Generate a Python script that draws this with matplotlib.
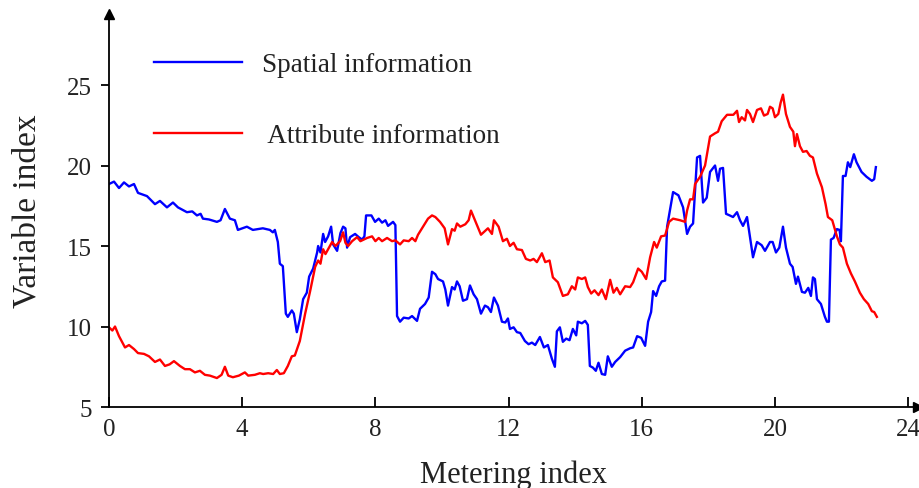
import matplotlib
matplotlib.use("Agg")
import matplotlib.pyplot as plt

plt.rcParams['font.family'] = ['Liberation Serif', 'DejaVu Serif']

# ---- data ----
spatial_x = [0.00,0.15,0.3,0.45,0.6,0.75,0.87,1.14,1.38,1.53,1.74,1.92,2.07,2.34,2.5,2.64,2.75,2.82,3.0,3.24,
             3.35,3.48,3.63,3.78,3.87,4.14,4.32,4.62,4.83,4.92,4.98,5.07,5.13,5.22,5.31,5.37,5.49,5.55,5.64,5.73,
             5.83,5.94,6.01,6.13,6.25,6.28,6.35,6.43,6.49,6.58,6.67,6.73,6.85,6.95,7.03,7.1,7.15,7.24,7.39,7.5,
             7.6,7.67,7.72,7.88,7.99,8.1,8.2,8.3,8.38,8.53,8.6,8.65,8.74,8.85,9.0,9.1,9.25,9.34,9.49,9.6,
             9.7,9.8,9.88,10.03,10.1,10.18,10.3,10.38,10.45,10.53,10.63,10.75,10.84,10.95,11.05,11.17,11.29,11.38,11.47,11.56,
             11.68,11.8,11.9,11.98,12.04,12.15,12.25,12.35,12.49,12.6,12.7,12.8,12.94,13.06,13.18,13.3,13.39,13.45,13.54,13.63,
             13.73,13.83,13.93,14.03,14.08,14.2,14.3,14.38,14.44,14.53,14.62,14.7,14.8,14.9,14.98,15.1,15.2,15.35,15.5,15.65,
             15.74,15.86,15.98,16.1,16.19,16.28,16.34,16.43,16.52,16.6,16.7,16.76,16.94,17.1,17.24,17.36,17.45,17.54,17.66,17.75,
             17.84,17.95,18.05,18.2,18.29,18.35,18.44,18.53,18.64,18.74,18.86,18.95,19.04,19.16,19.25,19.34,19.46,19.6,19.7,19.85,
             19.93,20.03,20.13,20.24,20.33,20.45,20.53,20.63,20.69,20.81,20.9,21.0,21.08,21.14,21.2,21.26,21.38,21.5,21.56,21.62,
             21.68,21.76,21.86,21.94,21.98,22.04,22.12,22.19,22.26,22.37,22.45,22.6,22.75,22.91,22.98,23.03]
spatial_y = [18.85,19.0,18.6,18.95,18.7,18.85,18.3,18.1,17.6,17.8,17.4,17.7,17.4,17.1,17.15,16.9,17.0,16.7,16.65,16.5,
             16.6,17.3,16.7,16.6,16.0,16.2,16.0,16.1,16.0,15.85,16.0,15.25,13.9,13.75,10.8,10.6,11.0,10.8,9.65,10.45,
             11.7,12.1,13.1,13.6,14.6,15.0,14.6,15.75,15.25,15.6,16.2,15.1,14.7,15.8,16.2,16.1,14.9,15.55,15.75,15.55,
             15.4,15.6,16.9,16.9,16.5,16.7,16.45,16.6,16.25,16.5,16.3,10.65,10.3,10.55,10.5,10.65,10.35,11.1,11.4,11.8,
             13.4,13.25,12.95,12.8,12.3,11.3,12.45,12.3,12.8,12.5,11.6,11.7,12.55,12.0,11.7,10.8,11.3,11.2,10.9,11.8,
             11.3,10.3,10.25,10.5,9.85,9.95,9.65,9.6,9.1,8.9,9.0,8.85,9.35,8.7,8.85,8.0,7.5,9.7,9.95,9.05,
             9.25,9.15,9.85,9.45,10.3,10.2,10.35,10.1,7.55,7.45,7.25,7.75,7.05,7.0,8.15,7.5,7.8,8.1,8.5,8.65,
             8.7,9.4,9.3,8.8,10.3,10.9,12.2,11.9,12.5,12.8,12.85,16.2,18.35,18.15,17.4,15.75,16.2,16.4,20.5,20.6,
             17.7,18.0,19.6,20.0,19.05,19.8,19.85,17.0,16.9,16.8,17.1,16.6,16.25,16.8,15.55,14.3,15.25,15.05,14.7,15.25,
             15.25,14.6,14.9,16.2,14.9,13.9,13.7,12.65,13.1,12.15,12.1,12.4,11.9,13.05,12.95,11.7,11.4,10.6,10.3,10.3,
             15.4,15.5,16.05,16.0,15.3,19.35,19.35,20.2,19.9,20.7,20.2,19.6,19.3,19.05,19.15,19.9]

attribute_x = [0.00,0.1,0.18,0.3,0.48,0.6,0.75,0.87,1.05,1.2,1.38,1.53,1.68,1.82,1.95,2.13,2.28,2.43,2.58,2.73,
               2.88,3.03,3.24,3.38,3.48,3.58,3.72,3.9,4.08,4.18,4.38,4.53,4.63,4.78,4.93,5.04,5.13,5.25,5.37,5.49,
               5.58,5.73,5.89,6.04,6.19,6.28,6.35,6.43,6.5,6.58,6.7,6.8,6.94,7.03,7.1,7.18,7.3,7.45,7.55,7.75,
               7.9,8.0,8.1,8.2,8.35,8.5,8.6,8.74,8.85,9.0,9.1,9.2,9.28,9.43,9.58,9.7,9.8,9.94,10.08,10.18,
               10.3,10.38,10.45,10.55,10.7,10.8,10.87,10.95,11.05,11.17,11.3,11.38,11.5,11.56,11.7,11.83,11.95,12.04,12.15,12.25,
               12.4,12.52,12.65,12.75,12.85,13.0,13.1,13.23,13.33,13.48,13.63,13.78,13.9,14.0,14.08,14.2,14.3,14.38,14.48,14.58,
               14.7,14.8,14.92,15.05,15.15,15.25,15.35,15.5,15.65,15.74,15.89,16.0,16.13,16.25,16.37,16.45,16.58,16.7,16.82,16.94,
               17.15,17.3,17.36,17.45,17.54,17.6,17.75,17.9,18.05,18.2,18.29,18.4,18.56,18.75,18.86,18.92,19.0,19.1,19.16,19.25,
               19.34,19.46,19.58,19.67,19.78,19.85,19.93,20.0,20.1,20.17,20.24,20.33,20.45,20.55,20.6,20.66,20.75,20.84,20.95,21.05,
               21.14,21.26,21.41,21.52,21.59,21.72,21.86,21.95,22.04,22.16,22.28,22.4,22.55,22.67,22.8,22.91,22.98,23.06]
attribute_y = [9.95,9.75,10.0,9.4,8.7,8.85,8.6,8.35,8.3,8.15,7.8,7.95,7.55,7.65,7.85,7.55,7.35,7.35,7.15,7.25,
               7.0,6.95,6.8,7.0,7.5,6.95,6.85,6.95,7.15,6.95,7.0,7.1,7.05,7.1,7.05,7.3,7.05,7.1,7.55,8.15,
               8.2,9.1,10.8,12.2,13.7,14.1,13.9,14.8,14.5,14.8,15.25,15.0,15.3,15.85,15.2,15.0,15.3,15.55,15.3,15.5,
               15.6,15.3,15.5,15.3,15.5,15.3,15.35,15.1,15.35,15.3,15.5,15.3,15.7,16.2,16.7,16.9,16.8,16.5,16.1,15.1,
               16.05,15.95,16.4,16.2,16.35,16.6,17.2,16.8,16.3,15.7,15.95,16.1,15.75,16.6,16.2,15.3,15.45,15.0,15.2,14.8,
               14.75,14.2,14.1,14.2,14.0,14.55,14.0,14.1,13.05,12.75,11.9,12.0,12.5,12.3,13.05,12.95,13.05,12.45,12.05,12.25,
               11.95,12.3,11.7,12.9,12.1,12.4,12.0,12.5,12.45,12.75,13.6,13.4,12.95,14.3,15.25,14.9,15.6,15.65,16.5,16.7,
               16.6,16.5,17.2,17.9,17.9,18.85,19.3,20.0,21.8,22.0,22.1,22.75,23.15,23.15,23.4,22.7,23.0,22.8,23.45,23.2,
               22.7,23.45,23.55,23.1,23.2,23.65,23.55,23.0,23.2,23.9,24.4,23.2,22.4,22.1,21.2,21.95,21.2,20.85,20.9,20.6,
               20.5,19.5,18.65,17.6,16.8,16.6,15.6,15.1,14.9,13.9,13.3,12.8,12.1,11.7,11.4,10.95,10.9,10.6]

series_labels = ["Spatial information", "Attribute information"]
x_ticks = [0, 4, 8, 12, 16, 20, 24]
y_ticks = [5, 10, 15, 20, 25]
x_label = "Metering index"
y_label = "Variable index"

# ---- figure ----
fig = plt.figure(figsize=(9.2, 4.89), dpi=100)
ax = fig.add_axes([0.1185, 0.1656, 0.8795, 0.8034])

ax.plot(spatial_x, spatial_y, color='#0000ff', lw=1.7, label=series_labels[0])
ax.plot(attribute_x, attribute_y, color='#ff0000', lw=1.7, label=" " + series_labels[1])

ax.set_xlim(0, 24.3)
ax.set_ylim(5, 29.4)
ax.set_xticks(x_ticks)
ax.set_yticks(y_ticks)

for s in ['top', 'right']:
    ax.spines[s].set_visible(False)
for s in ['left', 'bottom']:
    ax.spines[s].set_linewidth(1.3)
    ax.spines[s].set_color('black')

ax.tick_params(axis='x', direction='in', length=7, width=1.3, labelsize=18, pad=8, colors='#222222')
ax.tick_params(axis='y', direction='out', length=6, width=1.3, labelsize=18, pad=6, colors='#222222')
ax.tick_params(axis='both', color='black')

# arrow heads at the ends of the axes
ax.plot([0], [1], marker='^', color='black', markersize=7, transform=ax.transAxes, clip_on=False)
ax.plot([1], [0], marker='>', color='black', markersize=7, transform=ax.transAxes, clip_on=False)

ax.set_xlabel(x_label, fontsize=22, color='#222222', labelpad=14)
ax.set_ylabel(y_label, fontsize=24, color='#222222', labelpad=18)

leg = ax.legend(loc='upper left', bbox_to_anchor=(0.025, 0.965), frameon=False,
                fontsize=19.5, handlelength=3.25, handletextpad=0.75, labelspacing=1.7)
for t in leg.get_texts():
    t.set_color('#222222')

fig.savefig('out.png', dpi=100)
